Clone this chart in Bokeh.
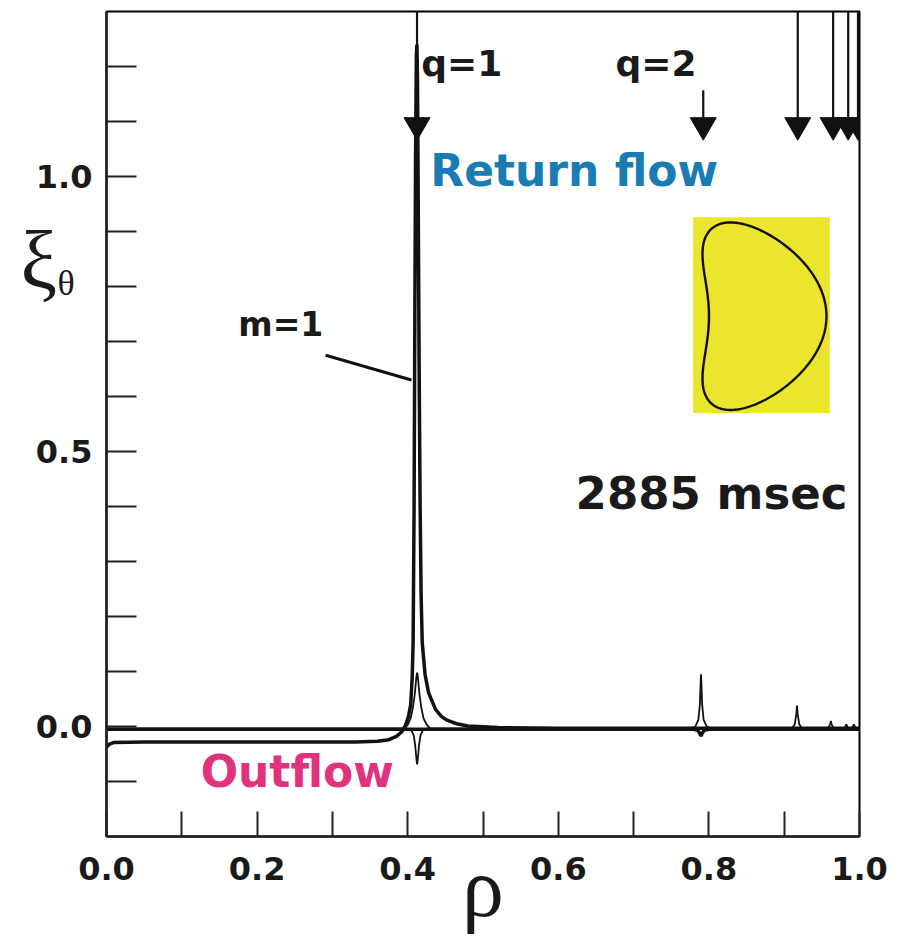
import numpy as np
from bokeh.plotting import figure
from bokeh.models import FixedTicker, PrintfTickFormatter, Label
from bokeh.embed import file_html
from bokeh.resources import INLINE

# ---------------- data ----------------
# m=1 component (thick): outflow inside q=1, spike at q=1, ~0 outside
m1_rho = [0.000, 0.004, 0.010, 0.050, 0.150, 0.250, 0.330, 0.360, 0.375, 0.385,
          0.392, 0.397, 0.401, 0.4040, 0.4060, 0.4072, 0.4085, 0.4095, 0.4105, 0.4115,
          0.4122, 0.4130, 0.4140, 0.4152, 0.4165, 0.4178, 0.4193, 0.4230, 0.4276, 0.4369,
          0.4450, 0.4529, 0.4650, 0.4800, 0.5200, 0.6000, 0.7000, 0.8000, 0.9000, 1.0000]
m1_val = [-0.037, -0.032, -0.029, -0.028, -0.028, -0.028, -0.028, -0.027, -0.024, -0.018,
          -0.010, 0.002, 0.018, 0.040, 0.090, 0.153, 0.40, 0.75, 1.05, 1.22,
          1.24, 1.18, 0.95, 0.65, 0.40, 0.24, 0.153, 0.095, 0.062, 0.031,
          0.018, 0.011, 0.005, 0.001, -0.002, -0.003, -0.003, -0.003, -0.003, -0.003]

# second thick trace, close to zero everywhere (small dip at q=2)
c2_rho = [0.000, 0.100, 0.200, 0.300, 0.400, 0.500, 0.600, 0.700, 0.780,
          0.7855, 0.7880, 0.7895, 0.7910, 0.7935, 0.800, 0.900, 1.000]
c2_val = [-0.005, -0.005, -0.005, -0.005, -0.005, -0.005, -0.005, -0.005, -0.005,
          -0.007, -0.013, -0.017, -0.013, -0.007, -0.005, -0.005, -0.005]

# thin trace with positive peaks at the rational surfaces
c3_rho = [0.000, 0.300, 0.395, 0.400, 0.404, 0.407, 0.4095, 0.4115, 0.4125, 0.4135,
          0.4155, 0.418, 0.421, 0.425, 0.430, 0.600, 0.775, 0.782, 0.786, 0.788,
          0.789, 0.7895, 0.790, 0.791, 0.793, 0.797, 0.804, 0.910, 0.914, 0.916,
          0.917, 0.918, 0.920, 0.924, 0.958, 0.961, 0.962, 0.963, 0.966, 0.980,
          0.9825, 0.985, 0.990, 0.9925, 0.995, 1.000]
c3_val = [-0.004, -0.004, -0.004, 0.003, 0.015, 0.035, 0.060, 0.090, 0.098, 0.090,
          0.060, 0.035, 0.015, 0.004, -0.004, -0.004, -0.004, 0.000, 0.012, 0.040,
          0.080, 0.095, 0.080, 0.040, 0.012, 0.000, -0.004, -0.004, 0.004, 0.022,
          0.038, 0.022, 0.004, -0.004, -0.004, 0.004, 0.010, 0.004, -0.004, -0.004,
          0.004, -0.004, -0.004, 0.004, -0.004, -0.004]

# thin trace with negative dip at q=1
c4_rho = [0.000, 0.300, 0.400, 0.405, 0.408, 0.410, 0.4115, 0.4125, 0.4135, 0.415,
          0.417, 0.420, 0.425, 0.600, 1.000]
c4_val = [-0.004, -0.004, -0.004, -0.007, -0.016, -0.035, -0.058, -0.069, -0.058, -0.035,
          -0.016, -0.007, -0.004, -0.004, -0.004]

# rational surfaces marked with arrows
q_rho = [0.4124, 0.7925, 0.918, 0.965, 0.985, 0.998]
q_arrow_top = [1.30, 1.157, 1.30, 1.30, 1.30, 1.30]
arrow_tip = 1.066

# axis ticks
x_major = [0.0, 0.2, 0.4, 0.6, 0.8, 1.0]
x_minor = [0.1, 0.3, 0.5, 0.7, 0.9]
y_major = [0.0, 0.5, 1.0]
y_minor = [-0.1, 0.1, 0.2, 0.3, 0.4, 0.6, 0.7, 0.8, 0.9, 1.1, 1.2]

# inset (plasma cross-section) placement and shape parameters
inset_rho = (0.779, 0.9606)
inset_val = (0.570, 0.926)
shape_center = (0.8738, 0.746)
shape_half = (0.0823, 0.1705)
shape_triang = 0.40
shape_indent = 0.30

BOLD = "DejaVu Sans"
SERIF = "Liberation Serif"

p = figure(width=899, height=948, x_range=(0, 1), y_range=(-0.2, 1.3),
           output_backend="svg", toolbar_location=None,
           min_border_left=106, min_border_right=40, min_border_top=11, min_border_bottom=112)
p.xgrid.visible = False
p.ygrid.visible = False
p.outline_line_color = "black"
p.outline_line_width = 2
p.outline_line_alpha = 1.0

for ax, maj, mnr, tick_len, standoff in ((p.xaxis, x_major, x_minor, 25, 20),
                                         (p.yaxis, y_major, y_minor, 30, 14)):
    ax.ticker = FixedTicker(ticks=maj, minor_ticks=mnr)
    ax.formatter = PrintfTickFormatter(format="%.1f")
    ax.major_tick_in = tick_len
    ax.major_tick_out = 0
    ax.minor_tick_in = tick_len
    ax.minor_tick_out = 0
    ax.major_tick_line_width = 2
    ax.minor_tick_line_width = 2
    ax.major_tick_line_color = "#222222"
    ax.minor_tick_line_color = "#222222"
    ax.axis_line_width = 2.5
    ax.axis_line_color = "#222222"
    ax.major_label_text_font = BOLD
    ax.major_label_text_font_style = "bold"
    ax.major_label_text_font_size = "32px"
    ax.major_label_text_color = "#1a1a1a"
    ax.major_label_standoff = standoff

# x axis title
p.xaxis.axis_label = "ρ"
p.xaxis.axis_label_text_font = SERIF
p.xaxis.axis_label_text_font_style = "normal"
p.xaxis.axis_label_text_font_size = "84px"
p.xaxis.axis_label_text_color = "#1a1a1a"
p.xaxis.axis_label_standoff = -42

# inset
p.quad(left=inset_rho[0], right=inset_rho[1], bottom=inset_val[0], top=inset_val[1],
       fill_color="#ebe62d", line_color=None)
t = np.linspace(0, 2 * np.pi, 400)
sx = np.cos(t + shape_triang * np.sin(t)) + shape_indent * ((1 - np.cos(t)) / 2) ** 8
sy = np.sin(t)
sx = (sx - (sx.max() + sx.min()) / 2) / ((sx.max() - sx.min()) / 2)
p.line(shape_center[0] + shape_half[0] * sx, shape_center[1] + shape_half[1] * sy,
       line_color="#111111", line_width=2.4)

# traces
p.line(c2_rho, c2_val, line_color="#111111", line_width=3.5)
p.line(m1_rho, m1_val, line_color="#111111", line_width=3.5)
p.line(c3_rho, c3_val, line_color="#111111", line_width=1.8)
p.line(c4_rho, c4_val, line_color="#111111", line_width=1.8)

# arrows at rational surfaces
head_size = 26
h_px = head_size * np.sqrt(3) / 2
px_per_unit = 825 / 1.5
head_center = arrow_tip + (2 * h_px / 3) / px_per_unit
p.segment(x0=q_rho, y0=q_arrow_top, x1=q_rho, y1=[head_center] * len(q_rho),
          line_color="#111111", line_width=2.2)
p.scatter(q_rho, [head_center] * len(q_rho), marker="inverted_triangle", size=head_size,
          fill_color="#111111", line_color="#111111")

# m=1 leader line
p.line([0.291, 0.405], [0.675, 0.630], line_color="#111111", line_width=3)

def lab(x, y, text, size, color="#1a1a1a", font=BOLD, style="bold", align="left",
        units="data", place=None):
    lb = Label(x=x, y=y, x_units=units, y_units=units, text=text, text_font=font,
               text_font_style=style, text_font_size=size, text_color=color,
               text_align=align, text_baseline="alphabetic")
    if place is None:
        p.add_layout(lb)
    else:
        p.add_layout(lb, place)

lab(0.418, 1.206, "q=1", "36px")
lab(0.676, 1.206, "q=2", "36px")
lab(0.430, 1.011, "Return flow", "44px", color="#197db4")
lab(0.175, 0.731, "m=1", "33px")
lab(0.623, 0.423, "2885 msec", "45px")
lab(0.125, -0.081, "Outflow", "44px", color="#e1327d")

# y axis title  ξ_θ (canvas pixel units, placed in the side panels so it is not clipped)
lab(20, 260, "ξ", "82px", font=SERIF, style="normal", units="canvas", place="right")
lab(57, 282, "θ", "36px", font=SERIF, style="normal", units="canvas", place="left")

open("out.html", "w").write(file_html(p, INLINE))
